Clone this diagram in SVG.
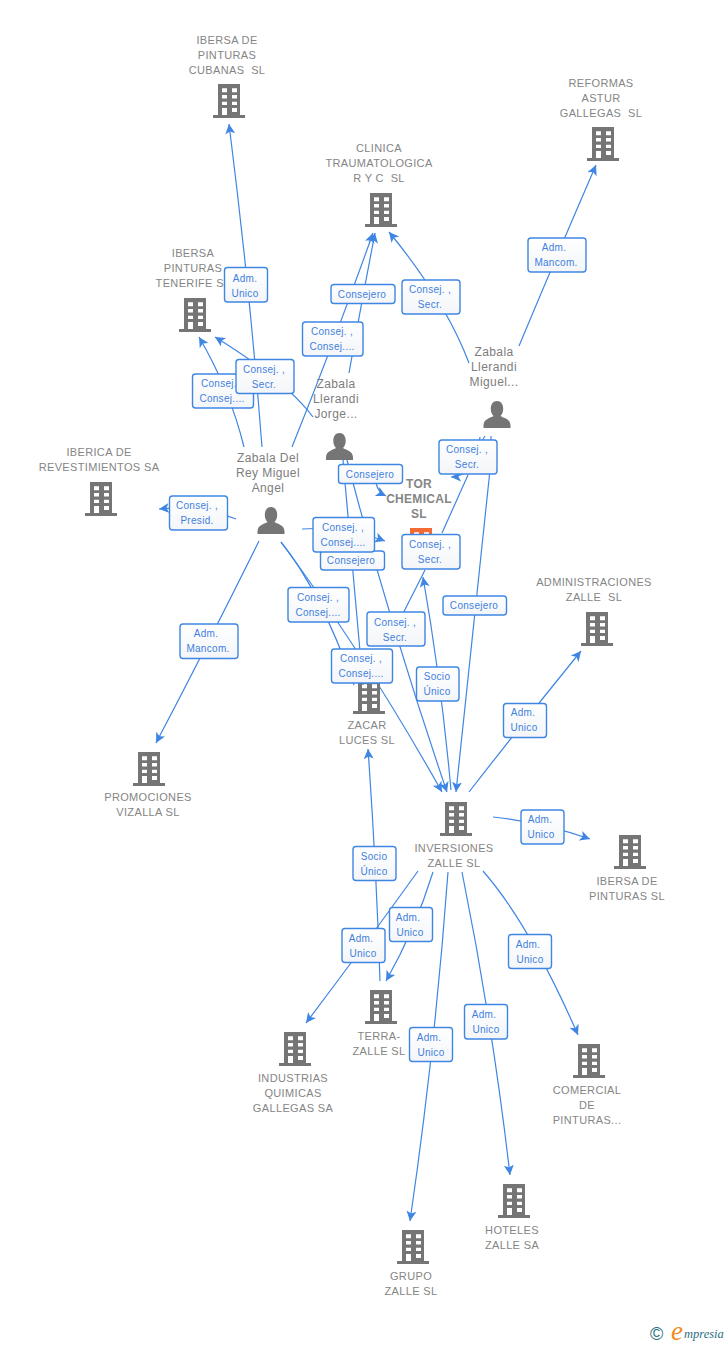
<svg xmlns="http://www.w3.org/2000/svg" width="728" height="1345" viewBox="0 0 728 1345">
<style>
text{font-family:"Liberation Sans",Arial,sans-serif}
.n{font-size:11px;fill:#858585;text-anchor:middle;letter-spacing:.35px}
.p{font-size:12px;fill:#7d7d7d;text-anchor:middle;letter-spacing:.4px}
.t{font-size:12px;fill:#858585;text-anchor:middle;font-weight:bold;letter-spacing:.3px}
.b{fill:#757575}
.e{fill:none;stroke:#3f86e3;stroke-width:1.2;marker-end:url(#ah)}
.o{fill:none;stroke:#3f86e3;stroke-width:1.2}
.l rect{fill:url(#bg);stroke:#3f86e3;stroke-width:1.4}
.l text{font-size:10px;fill:#3f80de;text-anchor:middle;letter-spacing:.3px}
</style>
<defs>
<linearGradient id="bg" x1="0" y1="0" x2="0" y2="1"><stop offset="0" stop-color="#ffffff"/><stop offset="1" stop-color="#f3f5f8"/></linearGradient>
<marker id="ah" markerUnits="userSpaceOnUse" markerWidth="12" markerHeight="12" refX="10" refY="5" orient="auto"><path d="M10,5 L0,0 L2.500,5 L0,10 z" fill="#3f86e3"/></marker>
<path id="bld" fill-rule="evenodd" d="M-11,0H11V31H16V34H-16V31H-11z M-7,4.300V8.300H-2V4.300z M3,4.300V8.300H8V4.300z M-7,11V14.500H-2V11z M3,11V14.500H8V11z M-7,17.700V21H-2V17.700z M3,17.700V21H8V17.700z M-7,24V31H-2V24z M3,24V28H8V24z"/>
<path id="per" d="M0,0C4,0 6.200,3.500 6.200,8C6.200,11 5,13.500 3.500,15C6,17 13.500,17.500 13.500,24.500V27H-13.500V24.500C-13.500,17.500 -6,17 -3.500,15C-5,13.500 -6.200,11 -6.200,8C-6.200,3.500 -4,0 0,0z"/>
</defs>
<g id="connectors">
<path class="e" d="M262,447Q250,290 229,124"/>
<path class="e" d="M244,447Q230,390 199,337"/>
<path class="e" d="M313,417Q285,380 215,337"/>
<path class="e" d="M292,447Q335,340 373,233"/>
<path class="e" d="M349,373Q362,300 375,233"/>
<path class="e" d="M469,363Q445,300 389,232"/>
<path class="e" d="M519,346Q557,255 596,165"/>
<path class="e" d="M236,519Q200,505 159,509"/>
<path class="e" d="M259,541Q210,640 156,743"/>
<path class="e" d="M302,529Q345,526 385,541"/>
<path class="e" d="M376,483Q378,492 386,496"/>
<path class="e" d="M480,437Q476,476 451,477"/>
<path class="o" d="M485,436L482,441"/>
<path class="o" d="M491,436V441"/>
<path class="o" d="M442,533L468,475"/>
<path class="o" d="M425,570Q405,610 386,646"/>
<path class="e" d="M451,790Q441,680 423,577"/>
<path class="e" d="M490,470Q474,620 456,792"/>
<path class="o" d="M343,460Q352,560 363,685"/>
<path class="e" d="M347,460Q390,625 447,792"/>
<path class="o" d="M281,542Q320,590 354,685"/>
<path class="e" d="M281,542Q365,655 442,792"/>
<path class="e" d="M380,981Q376,860 368,749"/>
<path class="e" d="M469,792Q525,720 581,651"/>
<path class="e" d="M493,817Q541,822 590,839"/>
<path class="e" d="M433,872Q415,930 386,981"/>
<path class="e" d="M418,871Q365,945 306,1023"/>
<path class="e" d="M448,872Q435,1050 410,1221"/>
<path class="e" d="M462,872Q492,1020 510,1175"/>
<path class="e" d="M483,871Q530,925 578,1035"/>
</g>
<g id="n1"><use href="#bld" class="b" x="229" y="84"/><text class="n" x="227" y="44">IBERSA DE</text><text class="n" x="227" y="59">PINTURAS</text><text class="n" x="227" y="74" xml:space="preserve">CUBANAS  SL</text></g>
<g id="n2"><use href="#bld" class="b" x="603" y="127"/><text class="n" x="601" y="87">REFORMAS</text><text class="n" x="601" y="102">ASTUR</text><text class="n" x="601" y="117" xml:space="preserve">GALLEGAS  SL</text></g>
<g id="n3"><use href="#bld" class="b" x="381" y="193"/><text class="n" x="379" y="152">CLINICA</text><text class="n" x="379" y="167">TRAUMATOLOGICA</text><text class="n" x="379" y="182" xml:space="preserve">R Y C  SL</text></g>
<g id="n4"><use href="#bld" class="b" x="195" y="298"/><text class="n" x="193" y="257">IBERSA</text><text class="n" x="193" y="272">PINTURAS</text><text class="n" x="193" y="287">TENERIFE SL</text></g>
<g id="n5"><use href="#bld" class="b" x="101" y="482"/><text class="n" x="99" y="456">IBERICA DE</text><text class="n" x="99" y="471">REVESTIMIENTOS SA</text></g>
<g id="n6"><use href="#bld" x="421" y="528" fill="#f26b35"/><text class="t" x="419" y="488">TOR</text><text class="t" x="419" y="503">CHEMICAL</text><text class="t" x="419" y="518">SL</text></g>
<g id="n7"><use href="#bld" class="b" x="597" y="612"/><text class="n" x="594" y="586">ADMINISTRACIONES</text><text class="n" x="594" y="601" xml:space="preserve">ZALLE  SL</text></g>
<g id="n8"><use href="#bld" class="b" x="369" y="680"/><text class="n" x="367" y="729">ZACAR</text><text class="n" x="367" y="744">LUCES SL</text></g>
<g id="n9"><use href="#bld" class="b" x="149" y="752"/><text class="n" x="148" y="801">PROMOCIONES</text><text class="n" x="148" y="816">VIZALLA SL</text></g>
<g id="n10"><use href="#bld" class="b" x="456" y="802"/><text class="n" x="454" y="852">INVERSIONES</text><text class="n" x="454" y="867">ZALLE SL</text></g>
<g id="n11"><use href="#bld" class="b" x="630" y="835"/><text class="n" x="627" y="885">IBERSA DE</text><text class="n" x="627" y="900">PINTURAS SL</text></g>
<g id="n12"><use href="#bld" class="b" x="381" y="990"/><text class="n" x="379" y="1040">TERRA-</text><text class="n" x="379" y="1055">ZALLE SL</text></g>
<g id="n13"><use href="#bld" class="b" x="295" y="1032"/><text class="n" x="293" y="1082">INDUSTRIAS</text><text class="n" x="293" y="1097">QUIMICAS</text><text class="n" x="293" y="1112">GALLEGAS SA</text></g>
<g id="n14"><use href="#bld" class="b" x="589" y="1044"/><text class="n" x="587" y="1094">COMERCIAL</text><text class="n" x="587" y="1109">DE</text><text class="n" x="587" y="1124">PINTURAS...</text></g>
<g id="n15"><use href="#bld" class="b" x="514" y="1184"/><text class="n" x="512" y="1234">HOTELES</text><text class="n" x="512" y="1249">ZALLE SA</text></g>
<g id="n16"><use href="#bld" class="b" x="413" y="1230"/><text class="n" x="411" y="1280">GRUPO</text><text class="n" x="411" y="1295">ZALLE SL</text></g>
<g id="p1"><use href="#per" class="b" x="271" y="507"/><text class="p" x="268" y="462">Zabala Del</text><text class="p" x="268" y="477">Rey Miguel</text><text class="p" x="268" y="492">Angel</text></g>
<g id="p2"><use href="#per" class="b" x="339.500" y="433"/><text class="p" x="336" y="388">Zabala</text><text class="p" x="336" y="403">Llerandi</text><text class="p" x="336" y="418">Jorge...</text></g>
<g id="p3"><use href="#per" class="b" x="497" y="401"/><text class="p" x="494" y="356">Zabala</text><text class="p" x="494" y="371">Llerandi</text><text class="p" x="494" y="386">Miguel...</text></g>
<g id="labels" class="l">
<g><rect x="224.500" y="267.500" width="43" height="34.500" rx="3"/><text x="245" y="282">Adm.</text><text x="245" y="297">Unico</text></g>
<g><rect x="331" y="284.500" width="64" height="19" rx="3"/><text x="362" y="298">Consejero</text></g>
<g><rect x="302.500" y="322" width="60.500" height="34" rx="3"/><text x="332" y="335">Consej. ,</text><text x="332" y="350">Consej....</text></g>
<g><rect x="402" y="280" width="58" height="34" rx="3"/><text x="430" y="293">Consej. ,</text><text x="430" y="308">Secr.</text></g>
<g><rect x="192.500" y="374" width="61" height="34" rx="3"/><text x="222" y="387">Consej. ,</text><text x="222" y="402">Consej....</text></g>
<g><rect x="236" y="359.500" width="58" height="34" rx="3"/><text x="264" y="373">Consej. ,</text><text x="264" y="388">Secr.</text></g>
<g><rect x="528" y="238" width="58" height="34" rx="3"/><text x="554" y="251">Adm.</text><text x="556" y="266">Mancom.</text></g>
<g><rect x="338.500" y="464.500" width="64" height="19" rx="3"/><text x="370" y="478">Consejero</text></g>
<g><rect x="439" y="440" width="58" height="34" rx="3"/><text x="467" y="453">Consej. ,</text><text x="467" y="468">Secr.</text></g>
<g><rect x="320.500" y="551" width="64" height="19" rx="3"/><text x="351" y="564">Consejero</text></g>
<g><rect x="313" y="517.500" width="61.500" height="34.500" rx="3"/><text x="343" y="531">Consej. ,</text><text x="343" y="546">Consej....</text></g>
<g><rect x="402" y="534.500" width="58" height="34.500" rx="3"/><text x="430" y="548">Consej. ,</text><text x="430" y="563">Secr.</text></g>
<g><rect x="443" y="596" width="63.500" height="19" rx="3"/><text x="474" y="609">Consejero</text></g>
<g><rect x="288" y="587.500" width="61" height="34.500" rx="3"/><text x="318" y="601">Consej. ,</text><text x="318" y="616">Consej....</text></g>
<g><rect x="367" y="612" width="58" height="34" rx="3"/><text x="395" y="626">Consej. ,</text><text x="395" y="641">Secr.</text></g>
<g><rect x="331.500" y="649" width="61" height="34" rx="3"/><text x="361" y="662">Consej. ,</text><text x="361" y="677">Consej....</text></g>
<g><rect x="416.500" y="667" width="42.500" height="34" rx="3"/><text x="437" y="680">Socio</text><text x="437" y="695">Único</text></g>
<g><rect x="503.500" y="703.500" width="43" height="34" rx="3"/><text x="523" y="716">Adm.</text><text x="524" y="731">Unico</text></g>
<g><rect x="169.500" y="496" width="58" height="34" rx="3"/><text x="197" y="509">Consej. ,</text><text x="197" y="524">Presid.</text></g>
<g><rect x="180" y="624" width="58" height="34.500" rx="3"/><text x="206" y="637">Adm.</text><text x="208" y="652">Mancom.</text></g>
<g><rect x="521" y="810" width="43" height="34" rx="3"/><text x="540" y="823">Adm.</text><text x="541" y="838">Unico</text></g>
<g><rect x="353" y="846.500" width="43" height="34" rx="3"/><text x="374" y="860">Socio</text><text x="374" y="875">Único</text></g>
<g><rect x="389.500" y="907.500" width="43" height="34" rx="3"/><text x="408" y="921">Adm.</text><text x="410" y="936">Unico</text></g>
<g><rect x="342" y="928.500" width="43" height="34" rx="3"/><text x="361" y="942">Adm.</text><text x="363" y="957">Unico</text></g>
<g><rect x="508.500" y="934.500" width="43" height="34" rx="3"/><text x="528" y="948">Adm.</text><text x="530" y="963">Unico</text></g>
<g><rect x="464.500" y="1004.500" width="43" height="34.500" rx="3"/><text x="484" y="1018">Adm.</text><text x="486" y="1033">Unico</text></g>
<g><rect x="409.500" y="1027.500" width="43" height="34" rx="3"/><text x="429" y="1041">Adm.</text><text x="431" y="1056">Unico</text></g>
</g>
<g id="logo">
<text x="650" y="1340" font-size="18" fill="#2a6f80" style="font-family:'Liberation Sans',sans-serif">©</text>
<text x="671" y="1340" font-size="27" fill="#f28c1e" font-style="italic" style="font-family:'Liberation Serif',serif">e</text>
<text x="684" y="1338" font-size="12.500" fill="#2a6f80" font-style="italic" style="font-family:'Liberation Serif',serif">mpresia</text>
</g>
</svg>
